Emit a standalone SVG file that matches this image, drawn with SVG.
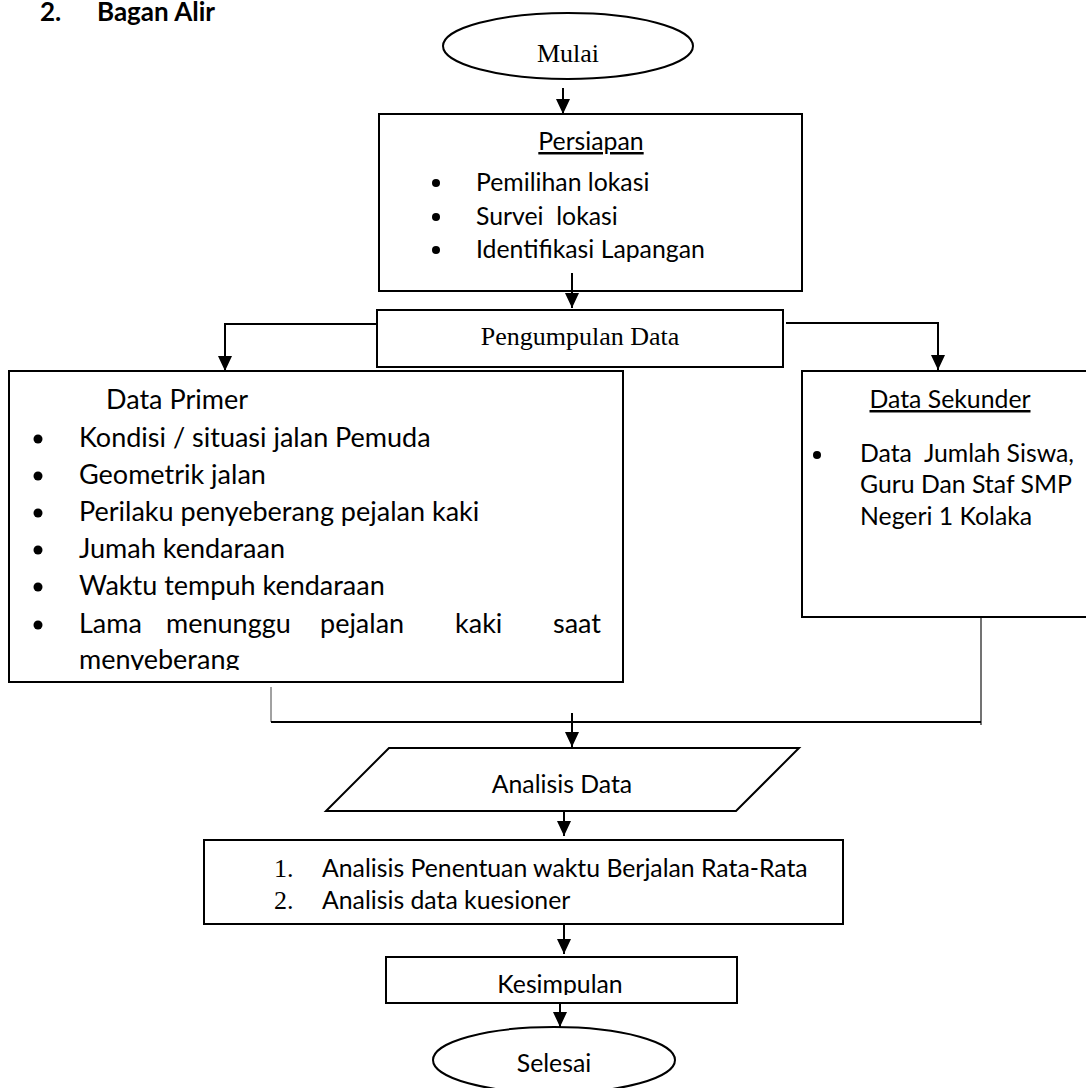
<svg xmlns="http://www.w3.org/2000/svg" width="1086" height="1088" viewBox="0 0 1086 1088">
<style>
.shape{fill:#fff;stroke:#000;stroke-width:2}
.cn{fill:none;stroke:#000;stroke-width:2}
.thin{fill:none;stroke:#444;stroke-width:1.5}
.cal{font-family:Lato,"Liberation Sans",sans-serif;font-size:24.8px;fill:#000}
.big{font-size:27px}
.tnr{font-family:"Liberation Serif",serif;font-size:26px;fill:#000}
.u{text-decoration:underline}
.mid{text-anchor:middle}
</style>
<defs>
<marker id="ah" markerUnits="userSpaceOnUse" markerWidth="16" markerHeight="16" viewBox="0 0 16 16" refX="15" refY="8" orient="auto">
<path d="M0,1 L15,8 L0,15 Z" fill="#000"/>
</marker>
<clipPath id="clipPrimer"><rect x="0" y="371" width="640" height="299"/></clipPath>
<clipPath id="clipKes"><rect x="380" y="950" width="370" height="45"/></clipPath>
</defs>

<g id="title">
<text class="cal" x="40" y="21" style="font-weight:bold;font-size:26px">2.</text>
<text class="cal" x="97" y="21" style="font-weight:bold;font-size:26px">Bagan Alir</text>
</g>

<g id="connectors">
<path class="cn" d="M563,88 V114" marker-end="url(#ah)"/>
<path class="cn" d="M572,273 V308" marker-end="url(#ah)"/>
<path class="cn" d="M377,324 H225 V371" marker-end="url(#ah)"/>
<path class="cn" d="M786,323 H938 V370" marker-end="url(#ah)"/>
<path class="thin" d="M271,687 V722" style="stroke-width:1"/>
<path class="thin" d="M981,617 V725"/>
<path class="cn" d="M271,722 H981"/>
<path class="cn" d="M572,713 V747" marker-end="url(#ah)"/>
<path class="cn" d="M564,811 V836" marker-end="url(#ah)"/>
<path class="cn" d="M564,924 V954" marker-end="url(#ah)"/>
<path class="cn" d="M560,999 V1027" marker-end="url(#ah)"/>
</g>

<g id="mulai">
<ellipse class="shape" cx="568" cy="46" rx="125" ry="33"/>
<text class="tnr mid" x="568" y="62">Mulai</text>
</g>

<g id="persiapan">
<rect class="shape" x="379" y="114" width="423" height="177"/>
<text class="cal mid u" x="591" y="150">Persiapan</text>
<circle cx="436" cy="183" r="4"/>
<text class="cal" x="476" y="191">Pemilihan lokasi</text>
<circle cx="436" cy="217" r="4"/>
<text class="cal" x="476" y="225" xml:space="preserve">Survei  lokasi</text>
<circle cx="436" cy="250" r="4"/>
<text class="cal" x="476" y="258">Identifikasi Lapangan</text>
</g>
<path class="cn" d="M572,273 V292"/>

<g id="pengumpulan">
<rect class="shape" x="377" y="310" width="406" height="57"/>
<text class="tnr mid" x="580" y="345">Pengumpulan Data</text>
</g>

<g id="data-primer">
<rect class="shape" x="9" y="371" width="614" height="311"/>
<g clip-path="url(#clipPrimer)">
<text class="cal big" x="106" y="409">Data Primer</text>
<circle cx="38" cy="439" r="4.5"/>
<text class="cal big" x="79" y="447">Kondisi / situasi jalan Pemuda</text>
<circle cx="38" cy="476" r="4.5"/>
<text class="cal big" x="79" y="484">Geometrik jalan</text>
<circle cx="38" cy="513" r="4.5"/>
<text class="cal big" x="79" y="521">Perilaku penyeberang pejalan kaki</text>
<circle cx="38" cy="550" r="4.5"/>
<text class="cal big" x="79" y="558">Jumah kendaraan</text>
<circle cx="38" cy="587" r="4.5"/>
<text class="cal big" x="79" y="595">Waktu tempuh kendaraan</text>
<circle cx="38" cy="625" r="4.5"/>
<text class="cal big" y="633"><tspan x="79">Lama</tspan><tspan x="166">menunggu</tspan><tspan x="320">pejalan</tspan><tspan x="455">kaki</tspan><tspan x="553">saat</tspan></text>
<text class="cal big" x="79" y="669">menyeberang</text>
</g>
</g>

<g id="data-sekunder">
<rect class="shape" x="802" y="371" width="290" height="246"/>
<text class="cal mid u" x="950" y="408">Data Sekunder</text>
<circle cx="817" cy="455" r="4"/>
<text class="cal" x="860" y="462" xml:space="preserve">Data  Jumlah Siswa,</text>
<text class="cal" x="860" y="493">Guru Dan Staf SMP</text>
<text class="cal" x="860" y="525">Negeri 1 Kolaka</text>
</g>

<g id="analisis-data">
<polygon class="shape" points="389,748 799,748 736,811 326,811"/>
<text class="cal mid" x="562" y="793">Analisis Data</text>
</g>

<g id="analisis-list">
<rect class="shape" x="204" y="840" width="639" height="84"/>
<text class="tnr" x="274" y="877">1.</text>
<text class="cal" x="322" y="877">Analisis Penentuan waktu Berjalan Rata-Rata</text>
<text class="tnr" x="274" y="909">2.</text>
<text class="cal" x="322" y="909">Analisis data kuesioner</text>
</g>

<g id="kesimpulan">
<rect class="shape" x="386" y="957" width="351" height="46"/>
<text class="cal mid" x="560" y="993" clip-path="url(#clipKes)">Kesimpulan</text>
</g>

<g id="selesai">
<ellipse class="shape" cx="554" cy="1060" rx="121" ry="33"/>
<text class="cal mid" x="554" y="1072">Selesai</text>
</g>
</svg>
